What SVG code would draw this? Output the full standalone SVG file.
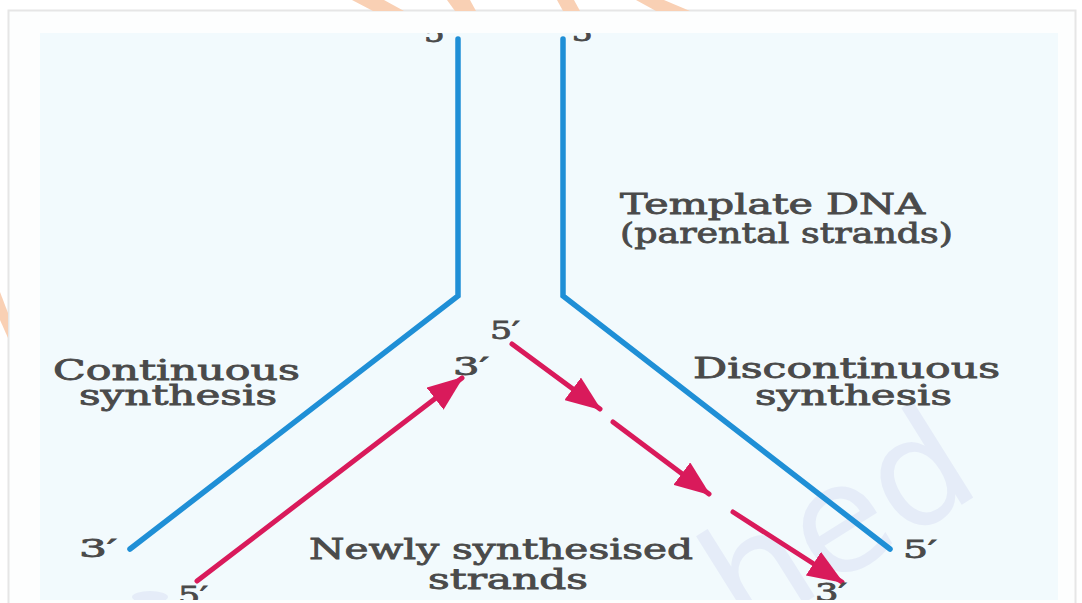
<svg xmlns="http://www.w3.org/2000/svg" width="1082" height="603" viewBox="0 0 1082 603">
  <style>
    .lbl { font-family: "DejaVu Serif", "Liberation Serif", serif; font-size: 27px; fill: #4a4a4a; stroke: #4a4a4a; stroke-width: 0.8px; }
    .num { font-family: "DejaVu Serif", "Liberation Serif", serif; font-size: 25px; fill: #4a4a4a; stroke: #4a4a4a; stroke-width: 0.8px; }
    .tmpl { fill: none; stroke: #1f8fd6; stroke-width: 5.5; stroke-linecap: round; stroke-linejoin: miter; }
    .new { fill: none; stroke: #d91a5b; stroke-width: 5; stroke-linecap: round; }
    .peach { fill: #f9d0b4; }
    .mark { font-family: "DejaVu Sans", "Liberation Sans", sans-serif; font-size: 150px; fill: #e5ecf8; }
  </style>
  <defs>
    <clipPath id="panelClip">
      <rect x="40" y="33" width="1018" height="567"/>
    </clipPath>
    <marker id="head" viewBox="0 0 36 28" refX="34" refY="14" markerWidth="36" markerHeight="28" markerUnits="userSpaceOnUse" orient="auto">
      <path d="M0,0 L36,14 L0,28 Z" fill="#d91a5b"/>
    </marker>
  </defs>

  <!-- page and frame -->
  <rect x="0" y="0" width="1082" height="603" fill="#ffffff"/>
  <rect x="8.5" y="10.5" width="1067" height="600" fill="#fdfefe" stroke="#e6e6e6" stroke-width="2"/>
  <rect x="40" y="33" width="1018" height="567" fill="#f2fafd"/>

  <!-- peach background marks along the edges -->
  <g id="edge-marks">
    <polygon class="peach" points="352,0 384,0 404,11 373,11"/>
    <polygon class="peach" points="447,0 470,0 476,11 455,11"/>
    <polygon class="peach" points="557,0 574,0 580,11 563,11"/>
    <polygon class="peach" points="636,0 664,0 690,11 656,11"/>
    <polygon class="peach" points="0,292 8,313 8,338 0,320"/>
  </g>

  <!-- faint lettering behind the fork -->
  <g id="backdrop-letters" clip-path="url(#panelClip)">
    <text class="mark" x="0" y="0" transform="translate(745,640) rotate(-32)">hed</text>
    <ellipse cx="150" cy="597" rx="18" ry="6" fill="#e5ecf8"/>
  </g>

  <!-- connectors: parental template strands and newly made strands -->
  <g id="connectors">
    <polyline id="template-left" class="tmpl" points="458,39 458,296 130,549"/>
    <polyline id="template-right" class="tmpl" points="563,39 563,296 890,549"/>
    <line id="leading-strand" class="new" x1="197" y1="581" x2="462" y2="378" marker-end="url(#head)"/>
    <g id="lagging-strand">
      <line class="new" x1="512" y1="344" x2="600" y2="409" marker-end="url(#head)"/>
      <line class="new" x1="613" y1="422" x2="709" y2="494" marker-end="url(#head)"/>
      <line class="new" x1="733" y1="512" x2="842" y2="582" marker-end="url(#head)"/>
    </g>
  </g>

  <!-- labels -->
  <g id="labels" clip-path="url(#panelClip)">
    <g id="label-template">
      <text class="lbl" x="620" y="214" textLength="305" lengthAdjust="spacingAndGlyphs">Template DNA</text>
      <text class="lbl" x="620" y="243" textLength="333" lengthAdjust="spacingAndGlyphs">(parental strands)</text>
    </g>
    <g id="label-continuous">
      <text class="lbl" x="53" y="380" textLength="247" lengthAdjust="spacingAndGlyphs">Continuous</text>
      <text class="lbl" x="79" y="405" textLength="198" lengthAdjust="spacingAndGlyphs">synthesis</text>
    </g>
    <g id="label-discontinuous">
      <text class="lbl" x="693" y="378" textLength="307" lengthAdjust="spacingAndGlyphs">Discontinuous</text>
      <text class="lbl" x="755" y="405" textLength="197" lengthAdjust="spacingAndGlyphs">synthesis</text>
    </g>
    <g id="label-new">
      <text class="lbl" x="309" y="559" textLength="384" lengthAdjust="spacingAndGlyphs">Newly synthesised</text>
      <text class="lbl" x="428" y="589" textLength="160" lengthAdjust="spacingAndGlyphs">strands</text>
    </g>
    <g id="ends">
      <text class="num" x="424" y="42" textLength="28" lengthAdjust="spacingAndGlyphs">5′</text>
      <text class="num" x="572" y="41" textLength="28" lengthAdjust="spacingAndGlyphs">3′</text>
      <text class="num" x="490" y="339" textLength="30" lengthAdjust="spacingAndGlyphs">5′</text>
      <text class="num" x="453" y="375" textLength="36" lengthAdjust="spacingAndGlyphs">3′</text>
      <text class="num" x="79" y="557" textLength="38" lengthAdjust="spacingAndGlyphs">3′</text>
      <text class="num" x="903" y="558" textLength="34" lengthAdjust="spacingAndGlyphs">5′</text>
      <text class="num" x="178" y="604" textLength="30" lengthAdjust="spacingAndGlyphs">5′</text>
      <text class="num" x="815" y="601" textLength="32" lengthAdjust="spacingAndGlyphs">3′</text>
    </g>
  </g>
</svg>
